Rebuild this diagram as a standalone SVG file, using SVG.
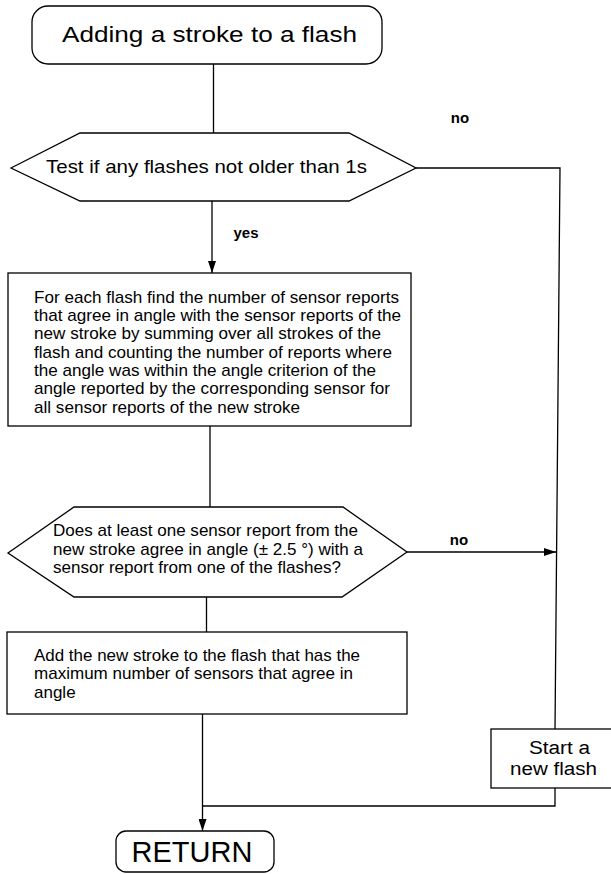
<svg xmlns="http://www.w3.org/2000/svg" width="611" height="874" viewBox="0 0 611 874">
<style>
  .shape { fill: #ffffff; stroke: #000000; stroke-width: 1.3; }
  .conn { fill: none; stroke: #000000; stroke-width: 1.3; }
  text { font-family: "Liberation Sans", Arial, sans-serif; fill: #000000; }
  .body { font-size: 17px; }
  .lbl { font-size: 15px; font-weight: bold; }
</style>
<defs>
  <marker id="arrow" viewBox="0 0 12 8" refX="12" refY="4" markerWidth="12" markerHeight="8" markerUnits="userSpaceOnUse" orient="auto">
    <path d="M0,0 L12,4 L0,8 Z" fill="#000000"/>
  </marker>
</defs>
<rect width="611" height="874" fill="#ffffff"/>

<g id="connectors">
  <line class="conn" x1="213.5" y1="64" x2="213.5" y2="133"/>
  <path class="conn" d="M416,168 H560 L555,729"/>
  <line class="conn" x1="212" y1="201" x2="212" y2="273" marker-end="url(#arrow)"/>
  <line class="conn" x1="210" y1="426" x2="210" y2="507"/>
  <line class="conn" x1="407" y1="552" x2="556" y2="552" marker-end="url(#arrow)"/>
  <line class="conn" x1="206.5" y1="597" x2="206.5" y2="632"/>
  <line class="conn" x1="202.5" y1="714" x2="202.5" y2="831" marker-end="url(#arrow)"/>
  <path class="conn" d="M202.5,806 H555 V788"/>
  <text class="lbl" x="460" y="123" text-anchor="middle">no</text>
  <text class="lbl" x="246" y="238" text-anchor="middle">yes</text>
  <text class="lbl" x="459" y="545" text-anchor="middle">no</text>
</g>

<g id="start">
  <rect class="shape" x="32" y="6" width="350" height="58" rx="16" ry="16"/>
  <text x="209.5" y="42" font-size="22" text-anchor="middle" textLength="295" lengthAdjust="spacingAndGlyphs">Adding a stroke to a flash</text>
</g>

<g id="test-flashes">
  <polygon class="shape" points="11,168 80,133 349,133 416,168 349,201 80,201"/>
  <text x="46" y="173" font-size="19" textLength="321" lengthAdjust="spacingAndGlyphs">Test if any flashes not older than 1s</text>
</g>

<g id="count-reports">
  <rect class="shape" x="8" y="273" width="403" height="153"/>
  <text class="body" x="34" y="302.7" textLength="365" lengthAdjust="spacingAndGlyphs">For each flash find the number of sensor reports</text>
  <text class="body" x="34" y="321" textLength="367" lengthAdjust="spacingAndGlyphs">that agree in angle with the sensor reports of the</text>
  <text class="body" x="34" y="339.4" textLength="347" lengthAdjust="spacingAndGlyphs">new stroke by summing over all strokes of the</text>
  <text class="body" x="34" y="357.7" textLength="358" lengthAdjust="spacingAndGlyphs">flash and counting the number of reports where</text>
  <text class="body" x="34" y="376" textLength="342" lengthAdjust="spacingAndGlyphs">the angle was within the angle criterion of the</text>
  <text class="body" x="34" y="394.4" textLength="356" lengthAdjust="spacingAndGlyphs">angle reported by the corresponding sensor for</text>
  <text class="body" x="34" y="412.7" textLength="266" lengthAdjust="spacingAndGlyphs">all sensor reports of the new stroke</text>
</g>

<g id="test-angle">
  <polygon class="shape" points="8,553 74,507 343,507 407,552 342,597 74,597"/>
  <text class="body" x="53" y="536" textLength="305" lengthAdjust="spacingAndGlyphs">Does at least one sensor report from the</text>
  <text class="body" x="53" y="554.5" textLength="310" lengthAdjust="spacingAndGlyphs">new stroke agree in angle (± 2.5 °) with a</text>
  <text class="body" x="53" y="573" textLength="288" lengthAdjust="spacingAndGlyphs">sensor report from one of the flashes?</text>
</g>

<g id="add-stroke">
  <rect class="shape" x="7" y="632" width="400" height="82"/>
  <text class="body" x="34" y="661" textLength="326" lengthAdjust="spacingAndGlyphs">Add the new stroke to the flash that has the</text>
  <text class="body" x="34" y="679.3" textLength="319" lengthAdjust="spacingAndGlyphs">maximum number of sensors that agree in</text>
  <text class="body" x="34" y="697.6">angle</text>
</g>

<g id="new-flash">
  <rect class="shape" x="491" y="729" width="125" height="59"/>
  <text x="559.5" y="754" font-size="18" text-anchor="middle" textLength="61" lengthAdjust="spacingAndGlyphs">Start a</text>
  <text x="553.5" y="775" font-size="18" text-anchor="middle" textLength="87" lengthAdjust="spacingAndGlyphs">new flash</text>
</g>

<g id="return">
  <rect class="shape" x="116" y="831" width="158" height="41" rx="10" ry="10"/>
  <text x="192" y="862" font-size="29" text-anchor="middle">RETURN</text>
</g>
</svg>
